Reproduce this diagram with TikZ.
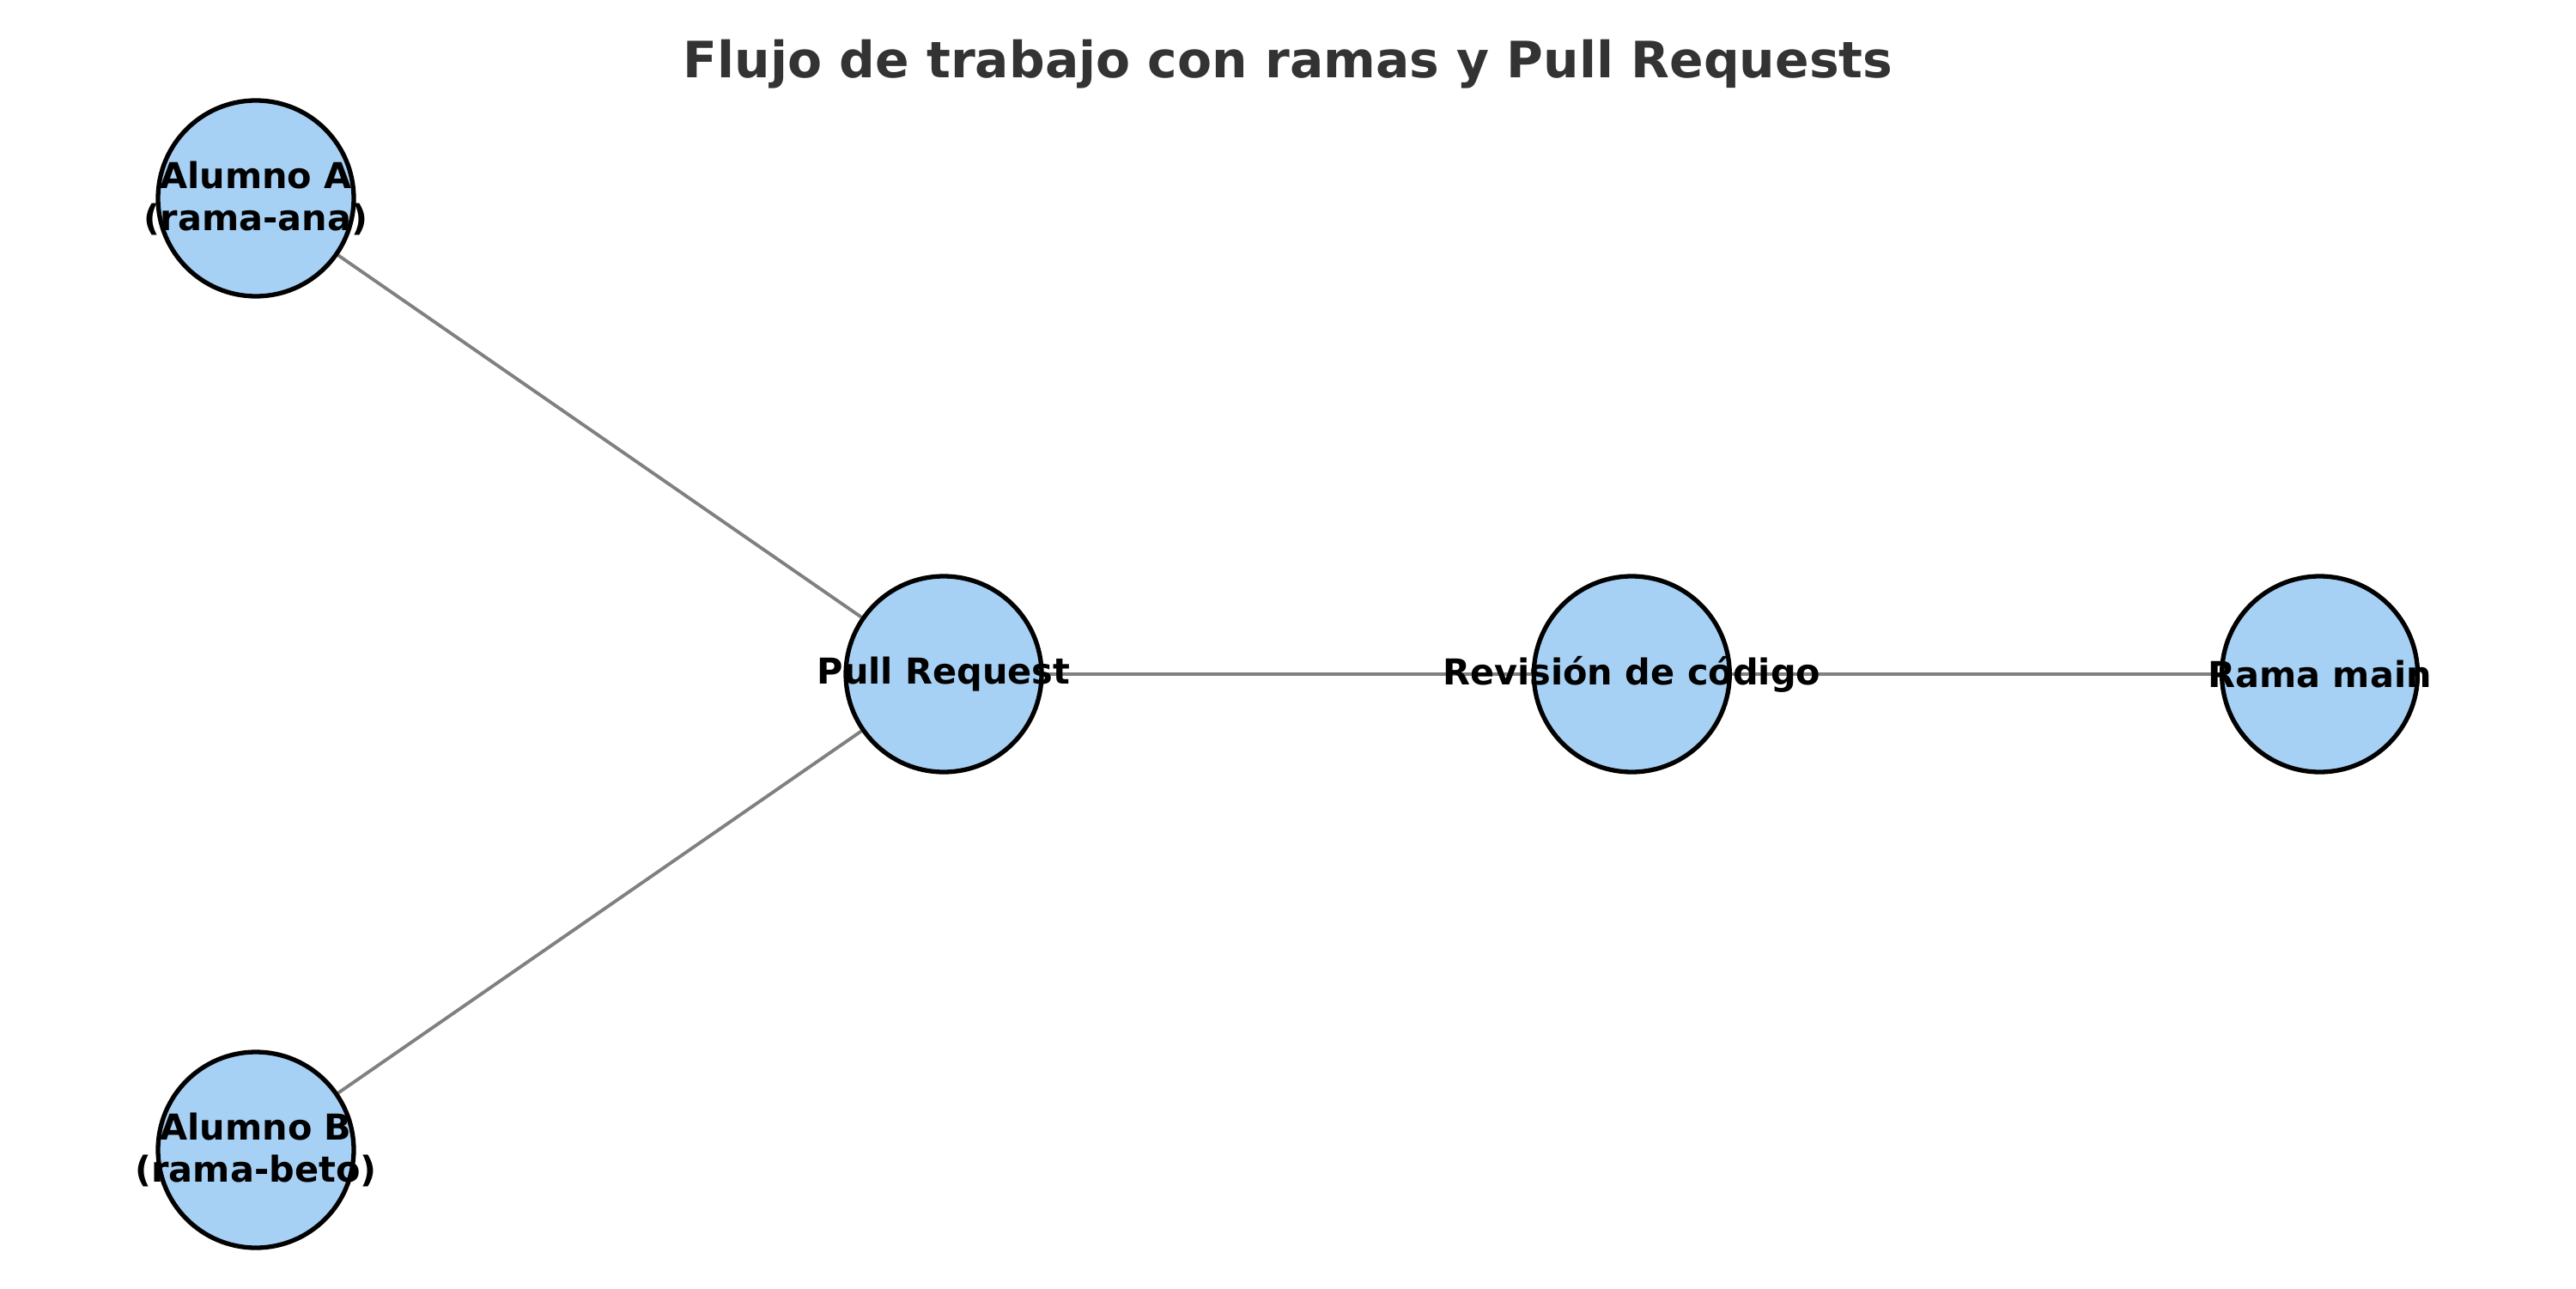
\documentclass[tikz,border=0pt]{standalone}
\usepackage{fontspec}
\setmainfont{DejaVu Sans}
\usetikzlibrary{positioning,backgrounds}

\definecolor{nodeblue}{RGB}{167,209,244}
\definecolor{titlegray}{RGB}{51,51,51}

\tikzset{
  paso/.style = {shape = circle, draw = black, line width = 1.5pt, fill = nodeblue,
    minimum size = 2.28cm, inner sep = 0pt},
  rotulo/.style = {align = center, inner sep = 0pt, font = \bfseries\fontsize{11.8}{13.9}\selectfont},
  enlace/.style = {draw = gray, line width = 1.1pt}
}

\begin{document}
\begin{tikzpicture}
\useasboundingbox (0,0) rectangle (30,15);
\node[font = \bfseries\fontsize{16.6}{20}\selectfont, text = titlegray] (titulo) at (15,14.25) {Flujo de trabajo con ramas y Pull Requests};

\node[paso, label = {[rotulo]center:Alumno A\\(rama-ana)}] (alumnoA) at (2.98,12.69) {};
\node[paso, label = {[rotulo]center:Alumno B\\(rama-beto)}] (alumnoB) at (2.98,1.61) {};
\node[paso, label = {[rotulo]center:Pull Request}] (pr) at (10.99,7.15) {};
\node[paso, right = 5.68cm of pr, label = {[rotulo]center:Revisión de código}] (revision) {};
\node[paso, right = 5.68cm of revision, label = {[rotulo]center:Rama main}] (main) {};

\begin{scope}[on background layer]
\draw[enlace] (alumnoA) -- (pr);
\draw[enlace] (alumnoB) -- (pr);
\draw[enlace] (pr) -- (revision);
\draw[enlace] (revision) -- (main);
\end{scope}
\end{tikzpicture}
\end{document}
